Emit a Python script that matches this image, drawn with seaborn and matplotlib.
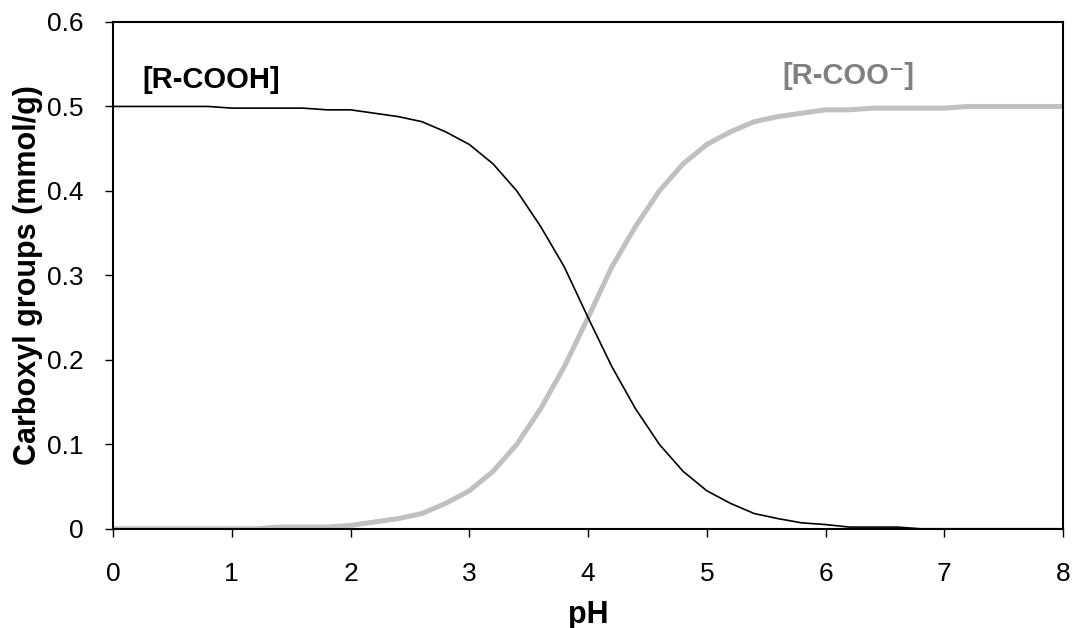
import matplotlib
matplotlib.use('Agg')
import matplotlib.pyplot as plt
from matplotlib.ticker import FuncFormatter
import seaborn as sns
import pandas as pd

# pH steps of 0.2 from 0 to 8
ph = [round(i * 0.2, 1) for i in range(41)]

cooh = [0.500, 0.500, 0.500, 0.500, 0.500, 0.498, 0.498, 0.498, 0.498, 0.496,
        0.496, 0.492, 0.488, 0.482, 0.470, 0.455, 0.432, 0.400, 0.358, 0.310,
        0.250, 0.192, 0.142, 0.100, 0.068, 0.045, 0.030, 0.018, 0.012, 0.007,
        0.005, 0.002, 0.002, 0.002, 0.000, 0.000, 0.000, 0.000, 0.000, 0.000,
        0.000]

coo = [0.000, 0.000, 0.000, 0.000, 0.000, 0.000, 0.000, 0.002, 0.002, 0.002,
       0.004, 0.008, 0.012, 0.018, 0.030, 0.045, 0.068, 0.100, 0.142, 0.192,
       0.250, 0.310, 0.358, 0.400, 0.432, 0.455, 0.470, 0.482, 0.488, 0.492,
       0.496, 0.496, 0.498, 0.498, 0.498, 0.498, 0.500, 0.500, 0.500, 0.500,
       0.500]

x_ticks = [0, 1, 2, 3, 4, 5, 6, 7, 8]
y_ticks = [0, 0.1, 0.2, 0.3, 0.4, 0.5, 0.6]

sns.set_style("white")
plt.rcParams['font.family'] = ['Liberation Sans', 'DejaVu Sans']

df = pd.DataFrame({'pH': ph, 'cooh': cooh, 'coo': coo})

fig = plt.figure(figsize=(10.87, 6.28), dpi=100)
ax = fig.add_axes([0.104, 0.158, 0.874, 0.807])

sns.lineplot(x='pH', y='coo', data=df, color='#c0c0c0', linewidth=3.6, ax=ax)
sns.lineplot(x='pH', y='cooh', data=df, color='black', linewidth=1.2, ax=ax)

ax.text(0.25, 0.531, '[R-COOH]', fontsize=21, fontweight='bold', color='black', va='center')
ax.text(5.64, 0.536, '[R-COO\u207b]', fontsize=21, fontweight='bold', color='#808080', va='center')

ax.set_xlim(0, 8)
ax.set_ylim(0, 0.6)
ax.set_xticks(x_ticks)
ax.set_yticks(y_ticks)
ax.yaxis.set_major_formatter(FuncFormatter(lambda v, p: f'{v:g}'))
ax.tick_params(axis='both', direction='out', length=6, width=1, labelsize=19,
               bottom=True, left=True, colors='black')
ax.tick_params(axis='x', pad=18)
ax.tick_params(axis='y', pad=15)
ax.set_xlabel('pH', fontsize=22, fontweight='bold', color='black')
ax.set_ylabel('Carboxyl groups (mmol/g)', fontsize=22, fontweight='bold', color='black')
ax.xaxis.set_label_coords(0.5, -0.14)
ax.yaxis.set_label_coords(-0.074, 0.5)

for s in ax.spines.values():
    s.set_color('black')
    s.set_linewidth(1.5)

plt.savefig('out.png', dpi=100, facecolor='white')
plt.close()
